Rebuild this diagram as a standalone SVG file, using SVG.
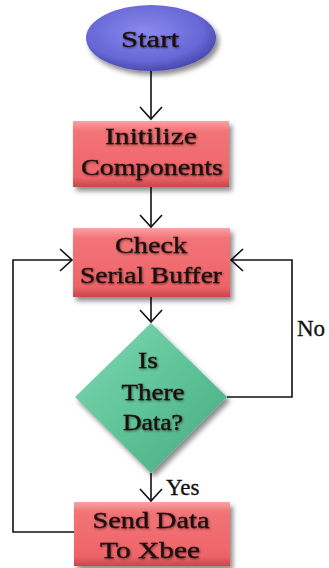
<svg xmlns="http://www.w3.org/2000/svg" width="329" height="568" viewBox="0 0 329 568">
<defs>
<style>
.lbl{font-family:"Liberation Serif","Times New Roman",serif;font-size:23px;fill:#1e0d0d;stroke:#1e0d0d;stroke-width:0.35;text-anchor:middle}
.edge{fill:none;stroke:#111;stroke-width:1.6}
.tag{font-family:"Liberation Serif","Times New Roman",serif;font-size:23px;fill:#111;stroke:#111;stroke-width:0.3}
</style>
<linearGradient id="gRed" x1="0" y1="0" x2="0" y2="1">
<stop offset="0" stop-color="#f9a3a5"/>
<stop offset="0.15" stop-color="#f27477"/>
<stop offset="0.85" stop-color="#ee6468"/>
<stop offset="1" stop-color="#c9464a"/>
</linearGradient>
<radialGradient id="gBlue" cx="0.45" cy="0.4" r="0.6">
<stop offset="0" stop-color="#8a8aee"/>
<stop offset="0.75" stop-color="#6767d6"/>
<stop offset="1" stop-color="#4a4ab0"/>
</radialGradient>
<linearGradient id="gGreen" x1="0" y1="0" x2="1" y2="1">
<stop offset="0" stop-color="#7fd8b0"/>
<stop offset="0.5" stop-color="#5fc49a"/>
<stop offset="1" stop-color="#48a87f"/>
</linearGradient>
<filter id="sh" x="-20%" y="-20%" width="150%" height="150%">
<feDropShadow dx="3" dy="4" stdDeviation="2.5" flood-color="#000" flood-opacity="0.45"/>
</filter>
<filter id="tsh" x="-10%" y="-20%" width="130%" height="150%">
<feDropShadow dx="0.8" dy="1" stdDeviation="0.8" flood-color="#000" flood-opacity="0.5"/>
</filter>
<marker id="arr" viewBox="-13 -12 15 24" markerWidth="15" markerHeight="24" refX="0" refY="0" orient="auto" markerUnits="userSpaceOnUse">
<path d="M-12,-11 L0,0 L-12,11" fill="none" stroke="#111" stroke-width="1.6"/>
</marker>
</defs>
<rect width="329" height="568" fill="#fff"/>
<g id="connectors">
<line class="edge" x1="151" y1="71" x2="151" y2="119" marker-end="url(#arr)"/>
<line class="edge" x1="151" y1="187" x2="151" y2="227" marker-end="url(#arr)"/>
<line class="edge" x1="151" y1="297" x2="151" y2="322" marker-end="url(#arr)"/>
<line class="edge" x1="151" y1="473" x2="151" y2="501" marker-end="url(#arr)"/>
<polyline class="edge" points="227,397 292,397 292,260 231,260" marker-end="url(#arr)"/>
<polyline class="edge" points="74,532 13,532 13,260 72,260" marker-end="url(#arr)"/>
<text class="tag" x="297" y="336">No</text>
<text class="tag" x="166" y="495">Yes</text>
</g>
<g id="start">
<ellipse cx="151" cy="38" rx="65" ry="33" fill="url(#gBlue)" filter="url(#sh)"/>
<text class="lbl" x="150" y="47" textLength="58" lengthAdjust="spacingAndGlyphs" filter="url(#tsh)">Start</text>
</g>
<g id="init">
<rect x="73" y="121" width="156" height="66" fill="url(#gRed)" filter="url(#sh)"/>
<text class="lbl" x="151" y="144" textLength="92" lengthAdjust="spacingAndGlyphs" filter="url(#tsh)">Initilize</text>
<text class="lbl" x="152" y="175" textLength="142" lengthAdjust="spacingAndGlyphs" filter="url(#tsh)">Components</text>
</g>
<g id="check">
<rect x="73" y="228" width="157" height="69" fill="url(#gRed)" filter="url(#sh)"/>
<text class="lbl" x="151" y="253" textLength="72" lengthAdjust="spacingAndGlyphs" filter="url(#tsh)">Check</text>
<text class="lbl" x="151" y="283" textLength="142" lengthAdjust="spacingAndGlyphs" filter="url(#tsh)">Serial Buffer</text>
</g>
<g id="decision">
<polygon points="151,323 227,397 151,473 75,397" fill="url(#gGreen)" filter="url(#sh)"/>
<text class="lbl" x="148" y="368" textLength="20" lengthAdjust="spacingAndGlyphs" filter="url(#tsh)">Is</text>
<text class="lbl" x="153" y="400" textLength="63" lengthAdjust="spacingAndGlyphs" filter="url(#tsh)">There</text>
<text class="lbl" x="153" y="430" textLength="60" lengthAdjust="spacingAndGlyphs" filter="url(#tsh)">Data?</text>
</g>
<g id="send">
<rect x="74" y="502" width="156" height="64" fill="url(#gRed)" filter="url(#sh)"/>
<text class="lbl" x="151" y="528" textLength="117" lengthAdjust="spacingAndGlyphs" filter="url(#tsh)">Send Data</text>
<text class="lbl" x="150" y="558" textLength="100" lengthAdjust="spacingAndGlyphs" filter="url(#tsh)">To Xbee</text>
</g>
</svg>
